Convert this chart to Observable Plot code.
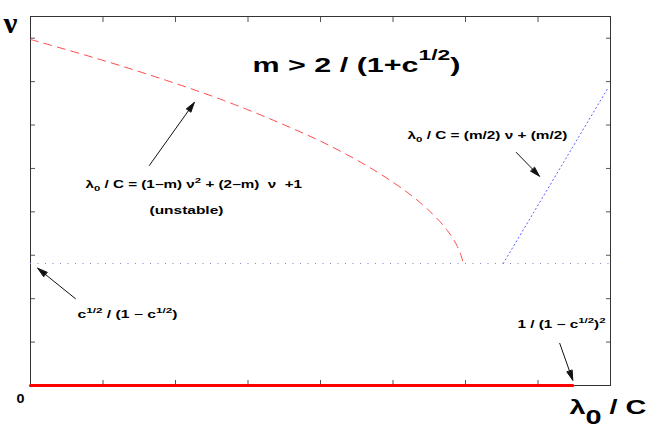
<!DOCTYPE html>
<html><head><meta charset="utf-8">
<script src="https://cdn.jsdelivr.net/npm/d3@7"></script>
<script src="https://cdn.jsdelivr.net/npm/@observablehq/plot@0.6"></script>
<style>
body{margin:0;background:#fff;}
svg text{white-space:pre;}
</style></head><body><div id="chart"></div>
<script>
// ---- data ----
const curveLambda = [0, 0.96, 1.87, 2.66, 3.42, 4.12, 4.75, 5.22, 5.54, 5.75, 5.88, 5.94, 5.97];
const curveNu     = [7.97, 7.51, 7.03, 6.57, 6.06, 5.53, 4.95, 4.42, 3.96, 3.57, 3.23, 2.99, 2.81];
const thresholdNu = [2.81];
const linearLambda = [6.52, 7.96];
const linearNu     = [2.81, 6.84];
const stableLambda = [0, 7.48];
const stableNu     = [0, 0];
const xTicks = [1, 2, 3, 4, 5, 6, 7];
const yTicks = [1, 2, 3, 4, 5, 6, 7, 8];
const arrowTailLambda = [1.64, 6.70, 0.62, 7.30];
const arrowTailNu     = [5.07, 5.37, 2.00, 0.97];
const arrowTipLambda  = [2.26, 7.02, 0.10, 7.48];
const arrowTipNu      = [6.52, 4.82, 2.70, 0.12];
const labels = [
  "ν",
  "m > 2 / (1+c^{1/2})",
  "λ_{0} / C = (1−m) ν^{2} + (2−m)  ν  +1",
  "(unstable)",
  "λ_{0} / C = (m/2) ν + (m/2)",
  "c^{1/2} / (1 − c^{1/2})",
  "1 / (1 − c^{1/2})^{2}",
  "0",
  "λ_{0} / C"
];

// ---- layout of the annotations (pixels) ----
const layout = [
  {left: 3,   right: 18,  base: 32,  size: 29,   font: "Liberation Serif"},
  {left: 252, right: 460, base: 71,  size: 20,   sup: 0.6,  ss: 0.75},
  {left: 85,  right: 302, base: 187, size: 10.5, sup: 0.45, sub: 0.3, ss: 0.75},
  {left: 149, right: 223, base: 213, size: 10.5},
  {left: 407, right: 567, base: 138.5, size: 10.5, sup: 0.45, sub: 0.3, ss: 0.75},
  {left: 77,  right: 177, base: 317, size: 10.5, sup: 0.45, ss: 0.75},
  {left: 517, right: 606, base: 327, size: 10.5, sup: 0.45, ss: 0.75},
  {left: 16,  right: 24,  base: 402, size: 13.5},
  {left: 569, right: 646, base: 413, size: 21, sub: 0.48, ss: 1}
];
const M = {top: 16, left: 30, right: 44, bottom: 51};

const curve = curveLambda.map((l, i) => ({l, n: curveNu[i]}));
const linear = linearLambda.map((l, i) => ({l, n: linearNu[i]}));
const stable = stableLambda.map((l, i) => ({l, n: stableNu[i]}));
const arrows = arrowTailLambda.map((l, i) => ({x1: l, y1: arrowTailNu[i], x2: arrowTipLambda[i], y2: arrowTipNu[i]}));

const textMarks = labels.map((t, i) => Plot.text([t], {
  frameAnchor: "top-left", dx: layout[i].left - M.left, dy: layout[i].base - M.top,
  textAnchor: "start", lineAnchor: "bottom",
  fontSize: layout[i].size, fontFamily: layout[i].font || "Liberation Sans",
  fontWeight: "bold", fill: "black"
}));

const plot = Plot.plot({
  width: 654, height: 436,
  marginTop: M.top, marginLeft: M.left, marginRight: M.right, marginBottom: M.bottom,
  x: {domain: [0, 8]},
  y: {domain: [0, 8.5]},
  marks: [
    Plot.axisX(xTicks, {anchor: "bottom", tickSize: -5, tickFormat: () => "", label: null, stroke: "#555"}),
    Plot.axisX(xTicks, {anchor: "top", tickSize: -5, tickFormat: () => "", label: null, stroke: "#555"}),
    Plot.axisY(yTicks, {anchor: "left", tickSize: -5, tickFormat: () => "", label: null, stroke: "#555"}),
    Plot.axisY(yTicks, {anchor: "right", tickSize: -5, tickFormat: () => "", label: null, stroke: "#555"}),
    Plot.frame({stroke: "#333", strokeWidth: 1}),
    Plot.ruleY(thresholdNu, {stroke: "#8484d8", strokeDasharray: "1,6.5", strokeWidth: 1}),
    Plot.line(curve, {x: "l", y: "n", curve: "catmull-rom", stroke: "#ff4a4a", strokeWidth: 1, strokeDasharray: "8,6"}),
    Plot.line(linear, {x: "l", y: "n", stroke: "#6060ff", strokeWidth: 1, strokeDasharray: "1.2,3"}),
    Plot.line(stable, {x: "l", y: "n", stroke: "#ff0000", strokeWidth: 3}),
    Plot.arrow(arrows, {x1: "x1", y1: "y1", x2: "x2", y2: "y2", stroke: "#111", strokeWidth: 1, headLength: 15, headAngle: 32}),
    ...textMarks
  ]
});
document.getElementById("chart").append(plot);

// filled arrow heads
plot.querySelectorAll('g[aria-label="arrow"] path').forEach(p => {
  const d = p.getAttribute("d");
  if (d) { p.setAttribute("d", d + "Z"); p.setAttribute("fill", "#111"); }
});

// rich text (super/subscripts) and horizontal stretch
const NS = "http://www.w3.org/2000/svg";
plot.querySelectorAll('g[aria-label="text"] text').forEach((t, i) => {
  const a = layout[i];
  if (!a) return;
  const raw = t.textContent;
  const parts = [];
  const re = /([\^_])\{([^}]*)\}/g;
  let last = 0, m;
  while ((m = re.exec(raw))) {
    if (m.index > last) parts.push({s: raw.slice(last, m.index), k: 0});
    parts.push({s: m[2], k: m[1] === "^" ? 1 : -1});
    last = re.lastIndex;
  }
  if (last < raw.length) parts.push({s: raw.slice(last), k: 0});
  t.textContent = "";
  let shift = 0;
  for (const p of parts) {
    const ts = document.createElementNS(NS, "tspan");
    ts.textContent = p.s;
    const target = p.k === 1 ? -(a.sup || 0.45) * a.size : p.k === -1 ? (a.sub || 0.3) * a.size : 0;
    const dy = target - shift; shift = target;
    if (dy) ts.setAttribute("dy", dy);
    if (p.k) ts.setAttribute("font-size", a.size * (a.ss || 0.75));
    t.appendChild(ts);
  }
  const w = t.getBBox().width;
  const k = (a.right - a.left) / w;
  const tr = t.getAttribute("transform") || "";
  t.setAttribute("transform", tr + ` scale(${k},1)`);
});
</script></body></html>
